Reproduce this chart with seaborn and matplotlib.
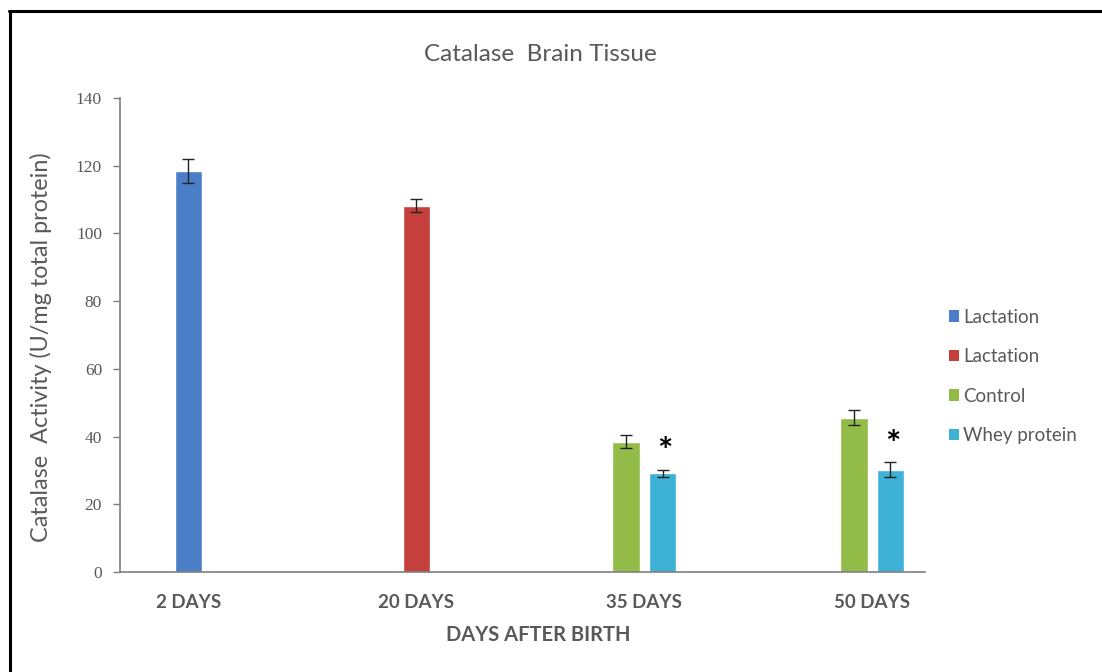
import numpy as np
import pandas as pd
import matplotlib
matplotlib.use("Agg")
import matplotlib.pyplot as plt
from matplotlib.patches import Patch
from matplotlib.lines import Line2D
import seaborn as sns

# === Datos ===
categories = ["2 DAYS", "20 DAYS", "35 DAYS", "50 DAYS"]
series = ["Lactation (2)", "Lactation (20)", "Control", "Whey protein"]
legend_labels = ["Lactation", "Lactation", "Control", "Whey protein"]
bar_category = [0, 1, 2, 2, 3, 3]
bar_series = ["Lactation (2)", "Lactation (20)", "Control", "Whey protein", "Control", "Whey protein"]
bar_values = [118.5, 108.2, 38.5, 29.1, 45.6, 30.2]
bar_errors = [3.5, 1.9, 1.8, 1.1, 2.2, 2.2]
significant = [False, False, False, True, False, True]

colors = {"Lactation (2)": "#4a7fc8", "Lactation (20)": "#c5403c",
          "Control": "#93bb48", "Whey protein": "#3db1d6"}

# posiciones: barras agrupadas por día, centradas en la categoría
offset = 0.08
pos = []
for i, (c, s) in enumerate(zip(bar_category, bar_series)):
    n = bar_category.count(c)
    k = [j for j in range(len(bar_category)) if bar_category[j] == c].index(i)
    pos.append(c + (k - (n - 1) / 2) * 2 * offset if n > 1 else c)

df = pd.DataFrame({"pos": pos, "series": bar_series, "value": bar_values,
                   "err": bar_errors, "sig": significant})

# === Estilo ===
sns.set_theme(style="white")
plt.rcParams["font.family"] = ["Lato", "DejaVu Sans"]
grey = "#595959"

fig = plt.figure(figsize=(11.02, 6.72), dpi=100)
ax = fig.add_axes([0.109, 0.149, 0.730, 0.705])

sns.barplot(data=df, x="pos", y="value", hue="series", hue_order=series,
            palette=colors, native_scale=True, dodge=False, width=0.75,
            errorbar=None, legend=False, ax=ax, saturation=1)

ax.errorbar(df["pos"], df["value"], yerr=df["err"], fmt="none",
            ecolor="#222222", elinewidth=1, capsize=4, capthick=1)

for _, r in df[df["sig"]].iterrows():
    ax.text(r["pos"] + 0.01, r["value"] + r["err"] + 5.0, "*", ha="center",
            va="center", fontsize=26, fontweight="bold", color="black")

ax.set_xlim(-0.30, 3.23)
ax.set_ylim(0, 140)
ax.set_yticks(range(0, 141, 20))
ax.set_xticks(range(len(categories)))
ax.set_xticklabels(categories, fontweight="bold", fontsize=13.5, color=grey)
ax.tick_params(axis="x", length=0, pad=16)
ax.tick_params(axis="y", length=5, width=1, color="#7f7f7f", direction="out",
               labelsize=12.5, labelcolor=grey, left=True, pad=8)
for lbl in ax.get_yticklabels():
    lbl.set_family(["Liberation Serif", "DejaVu Serif"])

for side in ["top", "right"]:
    ax.spines[side].set_visible(False)
for side in ["left", "bottom"]:
    ax.spines[side].set_color("#7f7f7f")
    ax.spines[side].set_linewidth(1.2)

ax.set_xlabel("DAYS AFTER BIRTH", fontweight="bold", fontsize=14.5, color=grey)
ax.xaxis.set_label_coords(0.52, -0.112)
ax.set_ylabel("Catalase  Activity (U/mg total protein)", fontsize=16.8,
              color=grey)
ax.yaxis.set_label_coords(-0.085, 0.475)
fig.suptitle("Catalase  Brain Tissue", x=0.49, y=0.935, fontsize=17.5, color=grey)

handles = [Patch(facecolor=colors[s], edgecolor="none") for s in series]
leg = fig.legend(handles, legend_labels, loc="center left",
                 bbox_to_anchor=(0.846, 0.44), frameon=False, fontsize=13.5,
                 labelspacing=1.2, handlelength=0.55, handleheight=0.55,
                 handletextpad=0.2)
for t in leg.get_texts():
    t.set_color(grey)

# marco de la imagen (solo arriba e izquierda)
fig.add_artist(Line2D([0.008, 1.0], [0.984, 0.984], color="black", lw=2.2,
                      transform=fig.transFigure))
fig.add_artist(Line2D([0.009, 0.009], [0.0, 0.984], color="black", lw=2.2,
                      transform=fig.transFigure))

plt.savefig("out.png", dpi=100)
